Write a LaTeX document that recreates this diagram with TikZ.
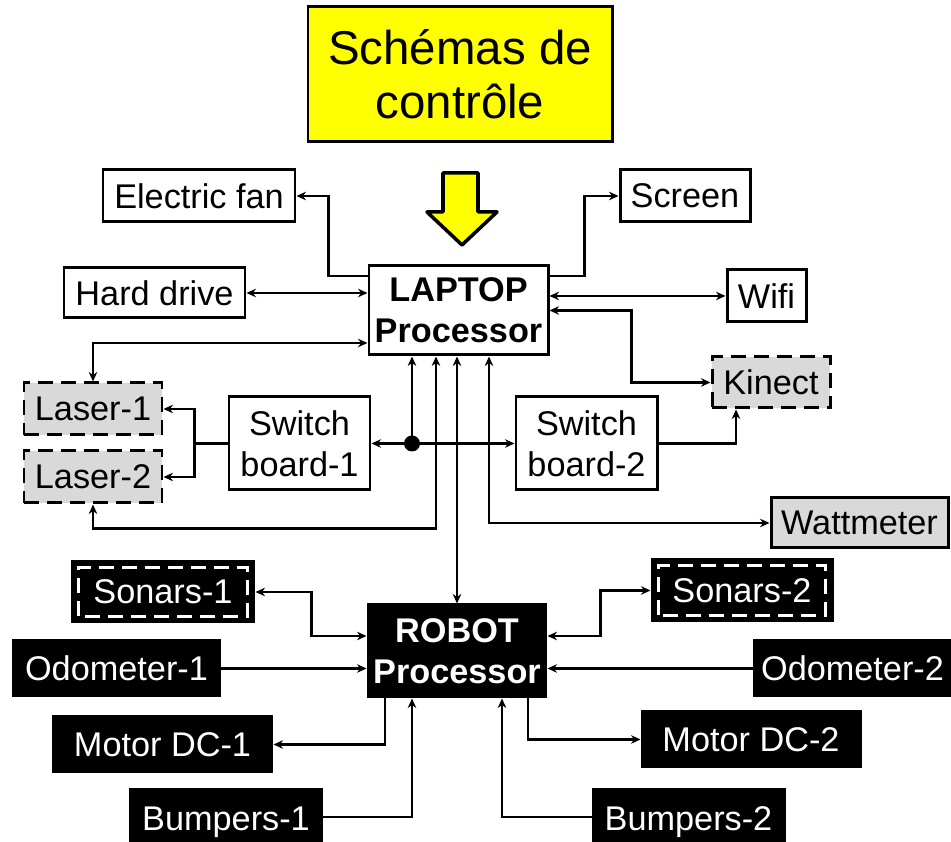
\documentclass[tikz,border=0pt]{standalone}
\usepackage{fontspec}
\setmainfont{Liberation Sans}
\usepackage{tikz}
\usetikzlibrary{arrows.meta,positioning,calc}
\definecolor{titleyellow}{RGB}{255,255,0}
\definecolor{sensorgray}{RGB}{217,217,217}

\begin{document}
\begin{tikzpicture}[
  box/.style={rectangle, draw, line width=1.7pt, inner sep=0pt, align=center,
    font=\fontsize{19.5}{23.5}\selectfont},
  sensor/.style={box, fill=sensorgray, dash pattern=on 0.30cm off 0.16cm},
  blackbox/.style={box, fill=black, text=white},
  innerdash/.style={draw=white, line width=1.5pt, dash pattern=on 0.30cm off 0.16cm},
  arrow/.style={->, line width=1.35pt},
  dblarrow/.style={<->, line width=1.35pt},
  >={Stealth[length=1.9mm,width=1.7mm]}
]
  \useasboundingbox (0,0) rectangle (19.02,16.84);

  % Title and input arrow
  \node[box, fill=titleyellow, minimum width=6.08cm, minimum height=2.70cm,
    font=\fontsize{27}{31}\selectfont] (title) at (9.20,15.35) {Schémas de\\contrôle};
  \draw[line width=2pt, fill=titleyellow, line join=round]
    (8.86,13.38) -- (9.56,13.38) -- (9.56,12.60) -- (9.94,12.60) -- (9.24,11.94)
    -- (8.54,12.60) -- (8.86,12.60) -- cycle;

  % Laptop side
  \node[box, minimum width=3.58cm, minimum height=1.78cm, font=\fontsize{19.5}{23.5}\selectfont\bfseries]
    (laptop) at (9.17,10.63) {LAPTOP\\Processor};
  \node[box, minimum width=3.84cm, minimum height=1.04cm] (fan) at (3.98,12.92) {Electric fan};
  \node[box, minimum width=2.60cm, minimum height=1.04cm] (screen) at (13.70,12.92) {Screen};
  \node[box, minimum width=3.62cm, minimum height=1.00cm] (hdd) at (3.09,10.98) {Hard drive};
  \node[box, minimum width=1.58cm, minimum height=1.04cm] (wifi) at (15.33,10.92) {Wifi};
  \node[sensor, minimum width=2.36cm, minimum height=1.02cm] (kinect) at (15.42,9.19) {Kinect};
  \node[sensor, minimum width=2.76cm, minimum height=1.04cm] (laser1) at (1.86,8.66) {Laser-1};
  \node[sensor, minimum width=2.76cm, minimum height=1.04cm] (laser2) at (1.86,7.30) {Laser-2};
  \node[box, minimum width=2.82cm, minimum height=1.86cm] (sb1) at (5.99,7.97) {Switch\\board-1};
  \node[box, minimum width=2.82cm, minimum height=1.86cm] (sb2) at (11.73,7.97) {Switch\\board-2};
  \node[box, fill=sensorgray, minimum width=3.54cm, minimum height=1.00cm] (watt) at (17.19,6.38) {Wattmeter};
  \node[circle, fill, inner sep=0pt, minimum size=0.32cm] (hub) at (8.24,7.97) {};

  % Robot side
  \node[blackbox, minimum width=3.56cm, minimum height=1.84cm, font=\fontsize{19.5}{23.5}\selectfont\bfseries]
    (robot) at (9.14,3.82) {ROBOT\\Processor};
  \node[blackbox, minimum width=3.64cm, minimum height=1.20cm] (sonars1) at (3.26,5.00) {Sonars-1};
  \node[blackbox, minimum width=3.60cm, minimum height=1.22cm] (sonars2) at (14.84,5.03) {Sonars-2};
  \node[blackbox, minimum width=4.14cm, minimum height=1.10cm] (odo1) at (2.33,3.47) {Odometer-1};
  \node[blackbox, minimum width=3.94cm, minimum height=1.10cm] (odo2) at (17.05,3.47) {Odometer-2};
  \node[blackbox, minimum width=4.38cm, minimum height=1.10cm] (motor1) at (3.25,1.95) {Motor DC-1};
  \node[blackbox, minimum width=4.36cm, minimum height=1.10cm] (motor2) at (15.02,2.05) {Motor DC-2};
  \node[blackbox, minimum width=3.84cm, minimum height=1.30cm] (bump1) at (4.52,0.40) {Bumpers-1};
  \node[blackbox, minimum width=3.82cm, minimum height=1.30cm] (bump2) at (13.77,0.40) {Bumpers-2};
  \foreach \s in {sonars1,sonars2}
    \draw[innerdash] ([shift={(0.16,0.14)}]\s.south west) rectangle ([shift={(-0.16,-0.14)}]\s.north east);

  % Laptop links
  \draw[arrow] ([yshift=0.69cm]laptop.west) -- ++(-0.78,0) |- (fan.east);
  \draw[dblarrow] (hdd.east) -- (hdd.east -| laptop.west);
  \draw[dblarrow] ([yshift=-0.65cm]laptop.west) -| (laser1.north);
  \draw[arrow] ([yshift=0.69cm]laptop.east) -- ++(0.70,0) |- (screen.west);
  \draw[dblarrow] (wifi.west -| laptop.east) -- (wifi.west);
  \draw[dblarrow] (laptop.east) -- ++(1.64,0) |- (kinect.west);
  \draw[arrow] (sb2.east) -| ([xshift=-0.70cm]kinect.south);
  \draw[dblarrow] ([xshift=0.61cm]laptop.south) |- (watt.west);
  \draw[dblarrow] ([xshift=-0.45cm]laptop.south) -- ++(0,-3.44) -| (laser2.south);
  \draw[arrow] (hub.center) -- (hub |- laptop.south);
  \draw[dblarrow] (sb1.east) -- (sb2.west);
  \draw[arrow] (sb1.west) -- ++(-0.66,0) |- (laser1.east);
  \draw[arrow] (sb1.west) -- ++(-0.66,0) |- (laser2.east);
  \draw[dblarrow] (robot.north) -- (robot.north |- laptop.south);

  % Robot links
  \draw[dblarrow] ([yshift=0.30cm]robot.west) -- ++(-1.10,0) |- (sonars1.east);
  \draw[arrow] (odo1.east) -- (odo1.east -| robot.west);
  \draw[arrow] ([xshift=-1.44cm]robot.south) |- (motor1.east);
  \draw[arrow] ([yshift=0.10cm]bump1.east) -| ([xshift=-0.90cm]robot.south);
  \draw[dblarrow] ([yshift=0.30cm]robot.east) -- ++(1.06,0) |- (sonars2.west);
  \draw[arrow] (odo2.west) -- (odo2.west -| robot.east);
  \draw[arrow] ([xshift=1.42cm]robot.south) |- (motor2.west);
  \draw[arrow] ([yshift=0.10cm]bump2.west) -| ([xshift=0.90cm]robot.south);
\end{tikzpicture}
\end{document}
